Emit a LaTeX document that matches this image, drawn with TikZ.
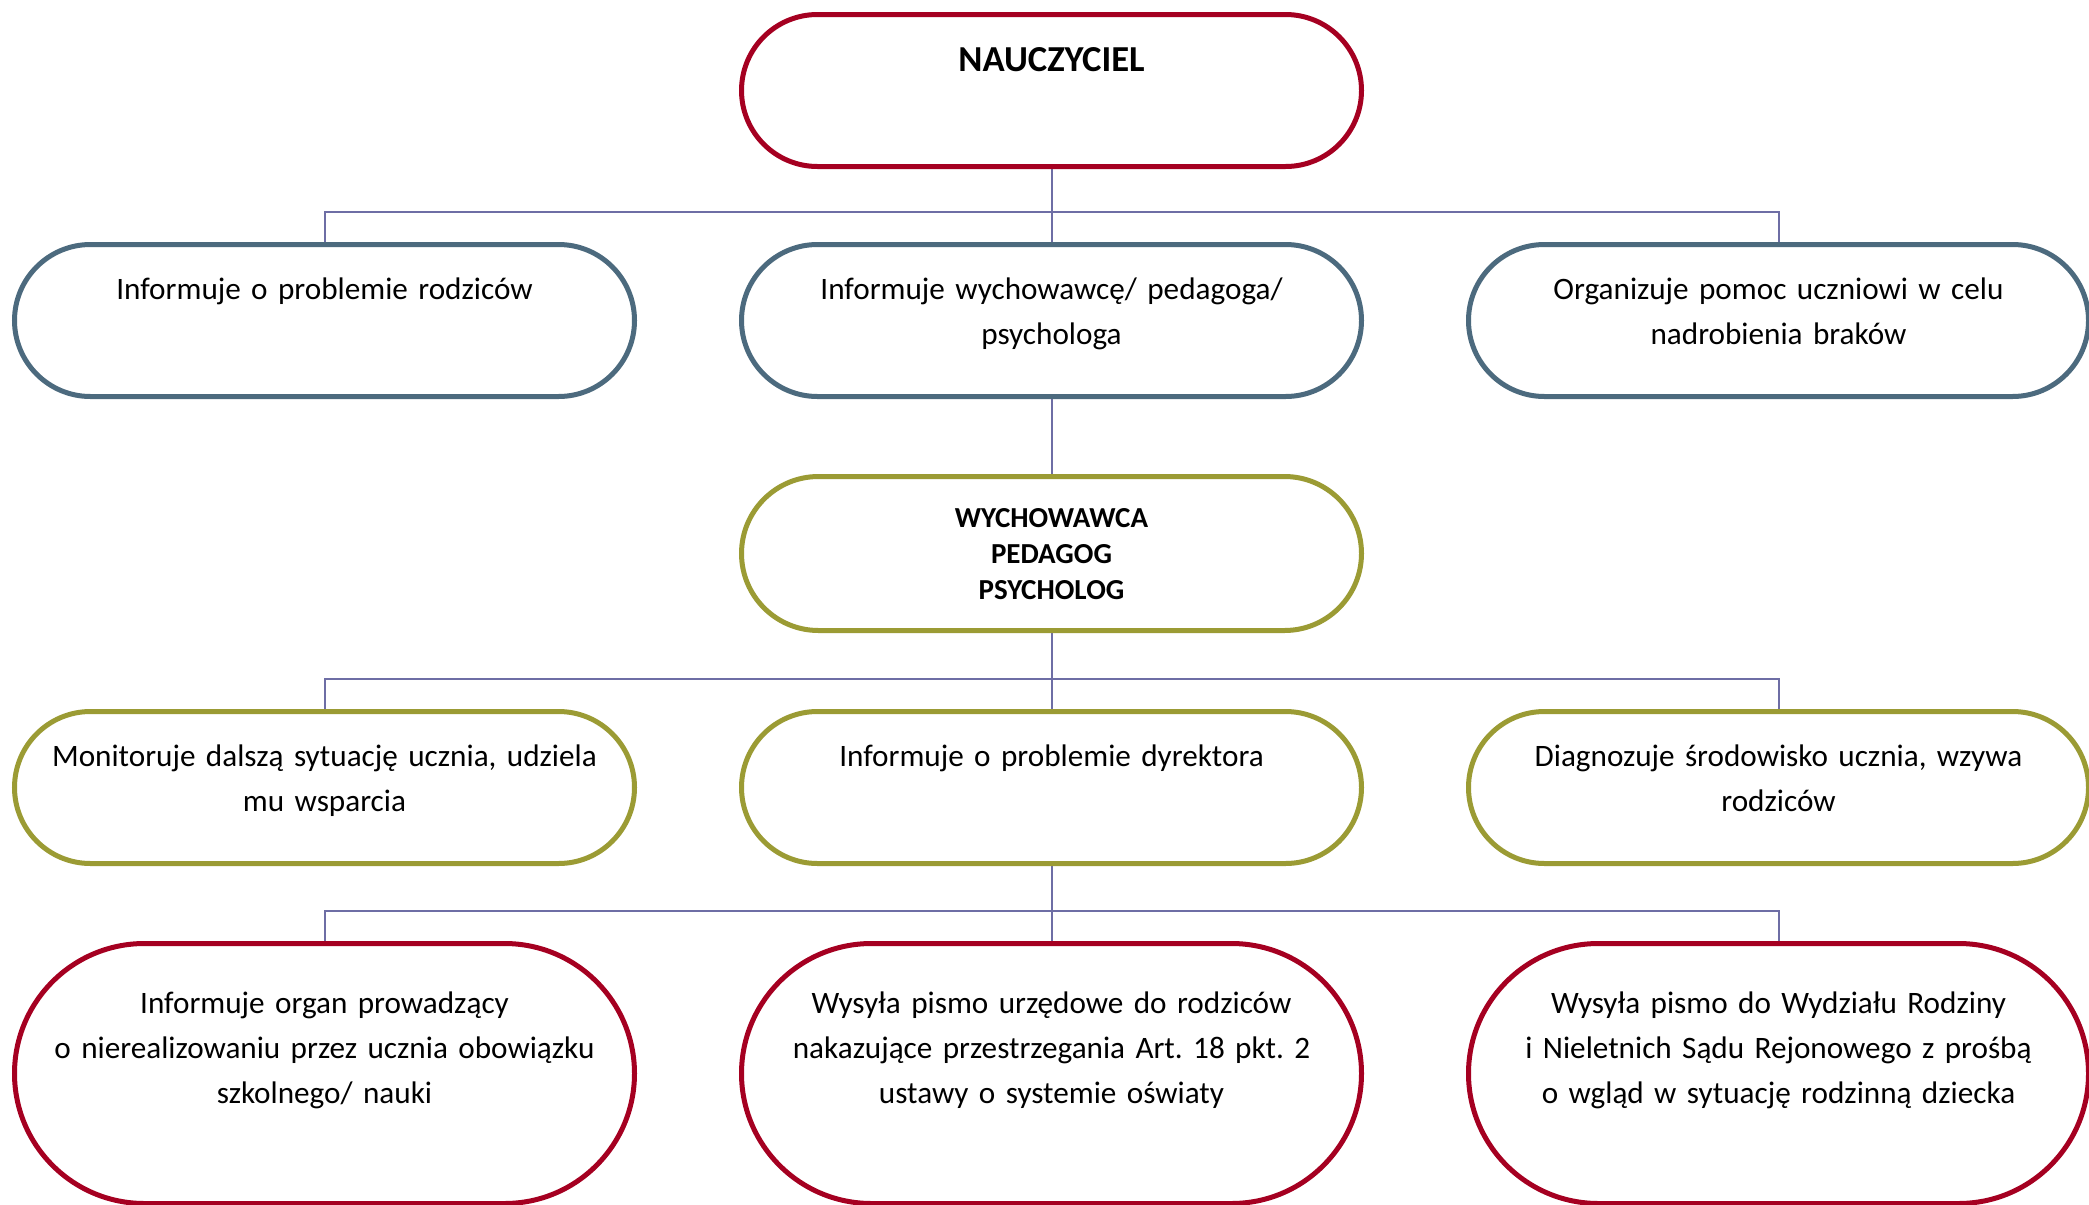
\documentclass[tikz,border=0pt]{standalone}
\usepackage{fontspec}
\setmainfont{Carlito}
\frenchspacing
\usetikzlibrary{positioning,backgrounds}

\definecolor{czerwony}{RGB}{165,0,33}
\definecolor{stalowy}{RGB}{76,106,126}
\definecolor{oliwka}{RGB}{155,155,52}
\definecolor{lacze}{RGB}{110,110,165}

\begin{document}
\begin{tikzpicture}[x=1pt,y=1pt,every node/.style={rectangle,draw,line width=2.5pt,fill=white,text width=300pt,align=center,inner sep=0pt,minimum width=310pt,node distance=363.5pt,font=\fontsize{15.6pt}{22.5pt}\selectfont}]

% Define block styles
\tikzstyle{glowny} = [draw=czerwony, minimum height=76pt, rounded corners=38pt,
    text height=28.5pt, text depth=47.5pt, font=\fontsize{18.3pt}{22.5pt}\selectfont\bfseries]
\tikzstyle{krok} = [draw=stalowy, minimum height=76pt, rounded corners=38pt,
    text height=27.5pt, text depth=48.5pt]
\tikzstyle{zespol} = [draw=oliwka, minimum height=77pt, rounded corners=38.5pt,
    text height=25.25pt, text depth=51.75pt, font=\fontsize{14.5pt}{18pt}\selectfont\bfseries]
\tikzstyle{dzialanie} = [draw=oliwka, minimum height=76pt, rounded corners=38pt,
    text height=27.5pt, text depth=48.5pt]
\tikzstyle{pismo} = [draw=czerwony, minimum height=130pt, rounded corners=65pt,
    text height=35pt, text depth=95pt]
\tikzstyle{line} = [draw, color=lacze, line width=1pt];

\useasboundingbox (0,0) rectangle (1044.5,-602.5);

\node [glowny] (nauczyciel) at (525.75,-45.25) {NAUCZYCIEL};

\node [krok, below of=nauczyciel, node distance=115pt] (informuje) {Informuje wychowawcę/ pedagoga/\\ psychologa};
\node [krok, left of=informuje] (rodzice) {Informuje o problemie rodziców};
\node [krok, right of=informuje] (pomoc) {Organizuje pomoc uczniowi w celu\\ nadrobienia braków};

\node [zespol, below of=informuje, node distance=116.5pt] (wychowawca) {WYCHOWAWCA\\ PEDAGOG\\ PSYCHOLOG};

\node [dzialanie, below of=wychowawca, node distance=117pt] (dyrektor) {Informuje o problemie dyrektora};
\node [dzialanie, left of=dyrektor] (monitoruje) {Monitoruje dalszą sytuację ucznia, udziela\\ mu wsparcia};
\node [dzialanie, right of=dyrektor] (diagnozuje) {Diagnozuje środowisko ucznia, wzywa\\ rodziców};

\node [pismo, below of=dyrektor, node distance=143pt] (rodzicepismo) {Wysyła pismo urzędowe do rodziców\\ nakazujące przestrzegania Art. 18 pkt. 2\\ ustawy o systemie oświaty};
\node [pismo, left of=rodzicepismo] (organ) {Informuje organ prowadzący\\ o nierealizowaniu przez ucznia obowiązku\\ szkolnego/ nauki};
\node [pismo, right of=rodzicepismo] (sad) {Wysyła pismo do Wydziału Rodziny\\ i Nieletnich Sądu Rejonowego z prośbą\\ o wgląd w sytuację rodzinną dziecka};

\begin{scope}[on background layer]
\draw[line] (nauczyciel) -- (informuje);
\draw[line] (rodzice.north) -- ++(0,15) -| (pomoc.north);
\draw[line] (informuje) -- (wychowawca);
\draw[line] (wychowawca) -- (dyrektor);
\draw[line] (monitoruje.north) -- ++(0,15) -| (diagnozuje.north);
\draw[line] (dyrektor) -- (rodzicepismo);
\draw[line] (organ.north) -- ++(0,15) -| (sad.north);
\end{scope}

\end{tikzpicture}
\end{document}
